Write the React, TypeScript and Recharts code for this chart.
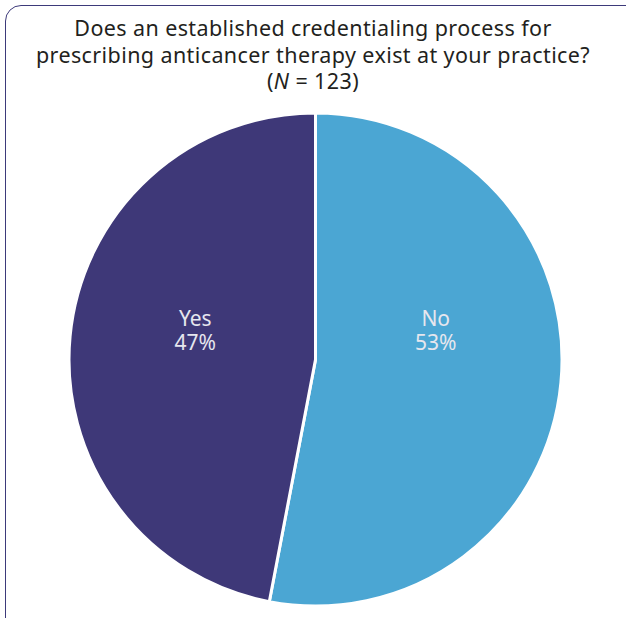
import { PieChart, Pie, Cell } from "recharts";

const titleLines = [
  "Does an established credentialing process for",
  "prescribing anticancer therapy exist at your practice?",
];
const sampleSize = 123;

const answers = ["No", "Yes"];
const shares = [53, 47];
const sliceColors = ["#4ba6d3", "#3e3878"];

const data = answers.map((name, i) => ({ name, value: shares[i] }));

const RADIAN = Math.PI / 180;

const SliceLabel = ({ cx, cy, midAngle, outerRadius, name, value }: any) => {
  const r = outerRadius * 0.49;
  const x = cx + r * Math.cos(-midAngle * RADIAN);
  // both labels sit on the same line, a little above the centre
  const y = cy - 30;
  const textProps = {
    fill: "#e6e6ee",
    textAnchor: "middle" as const,
    fontSize: 21,
    fontFamily: "'Noto Sans', sans-serif",
  };
  return (
    <g>
      <text x={x} y={y - 4} {...textProps}>
        {name}
      </text>
      <text x={x} y={y + 20} {...textProps}>
        {`${value}%`}
      </text>
    </g>
  );
};

export default function App() {
  return (
    <div
      style={{
        position: "fixed",
        left: 0,
        top: 0,
        width: 626,
        height: 618,
        overflow: "hidden",
        background: "#fff",
      }}
    >
      <div
        style={{
          position: "absolute",
          left: 5,
          top: 5,
          width: 660,
          height: 660,
          boxSizing: "border-box",
          border: "1.5px solid #3d3a7a",
          borderRadius: 16,
        }}
      />
      <div
        style={{
          position: "absolute",
          left: 0,
          top: 15,
          width: 626,
          textAlign: "center",
          fontFamily: "'Noto Sans', sans-serif",
          fontSize: 21.5,
          letterSpacing: 0.4,
          lineHeight: "26.5px",
          color: "#231f20",
        }}
      >
        {titleLines.map((t) => (
          <div key={t}>{t}</div>
        ))}
        <div>
          (<i>N</i> = {sampleSize})
        </div>
      </div>
      <div style={{ position: "absolute", left: 0, top: 0 }}>
        <PieChart
          width={626}
          height={618}
          margin={{ top: 0, right: 0, bottom: 0, left: 0 }}
        >
          <Pie
            data={data}
            dataKey="value"
            nameKey="name"
            cx={315.5}
            cy={359.5}
            outerRadius={246.5}
            startAngle={90}
            endAngle={-270}
            stroke="#ffffff"
            strokeWidth={3}
            label={<SliceLabel />}
            labelLine={false}
            isAnimationActive={false}
          >
            {data.map((d, i) => (
              <Cell key={d.name} fill={sliceColors[i]} />
            ))}
          </Pie>
        </PieChart>
      </div>
    </div>
  );
}
